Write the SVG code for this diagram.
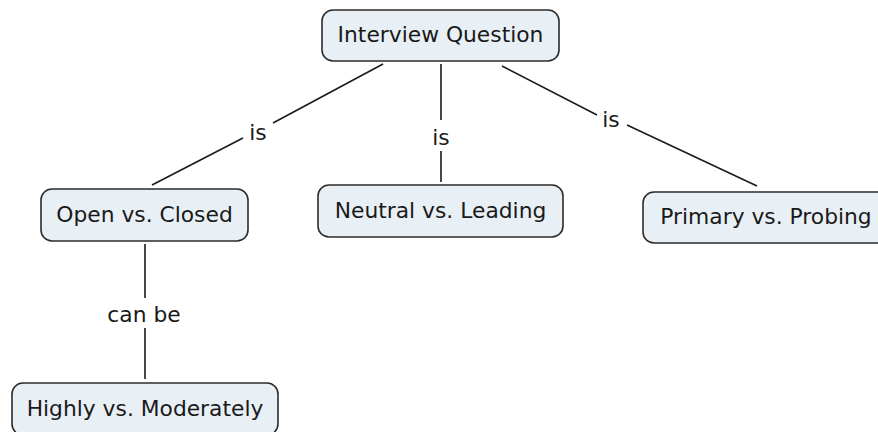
<svg xmlns="http://www.w3.org/2000/svg" width="878" height="432" viewBox="0 0 878 432">
<style>
.node rect{fill:#e9f0f5;stroke:#2b2b2b;stroke-width:1.6}
text{font-family:"DejaVu Sans",Verdana,sans-serif;font-size:21.8px;fill:#1a1a1a;text-anchor:middle}
.conn line{stroke:#1a1a1a;stroke-width:1.6}
</style>
<rect width="878" height="432" fill="#ffffff"/>
<g id="connectors" class="conn">
<line x1="383" y1="64" x2="273" y2="123"/>
<line x1="243" y1="138" x2="152" y2="185"/>
<line x1="441" y1="64" x2="441" y2="120"/>
<line x1="441" y1="151" x2="441" y2="182"/>
<line x1="502" y1="66" x2="597" y2="115"/>
<line x1="627" y1="125" x2="757" y2="186"/>
<line x1="145" y1="244" x2="145" y2="298"/>
<line x1="145" y1="328" x2="145" y2="379"/>
<text x="258" y="140">is</text>
<text x="441" y="145">is</text>
<text x="611" y="127">is</text>
<text x="144" y="322">can be</text>
</g>
<g id="interview-question" class="node">
<rect x="322" y="10" width="237" height="51" rx="11"/>
<text x="440.5" y="42">Interview Question</text>
</g>
<g id="open-closed" class="node">
<rect x="41" y="189" width="207" height="52" rx="11"/>
<text x="144.5" y="222">Open vs. Closed</text>
</g>
<g id="neutral-leading" class="node">
<rect x="318" y="185" width="245" height="52" rx="11"/>
<text x="440.5" y="218">Neutral vs. Leading</text>
</g>
<g id="primary-probing" class="node">
<rect x="643" y="192" width="246" height="51" rx="11"/>
<text x="766" y="224">Primary vs. Probing</text>
</g>
<g id="highly-moderately" class="node">
<rect x="12" y="383" width="266" height="52" rx="11"/>
<text x="145" y="416">Highly vs. Moderately</text>
</g>
</svg>
